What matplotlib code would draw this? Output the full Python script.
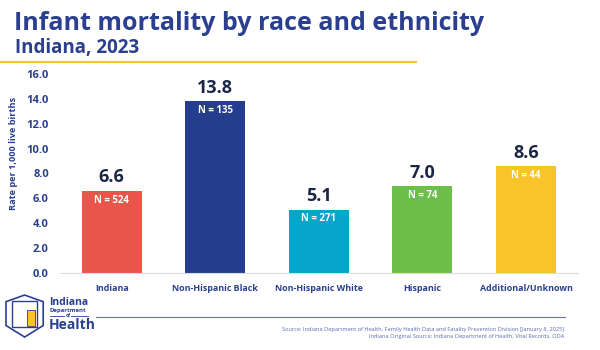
import matplotlib.pyplot as plt
from matplotlib.patches import Polygon, Rectangle
from matplotlib.lines import Line2D

plt.rcParams['font.family'] = ['Open Sans', 'DejaVu Sans']

categories = ['Indiana', 'Non-Hispanic Black', 'Non-Hispanic White', 'Hispanic', 'Additional/Unknown']
rates = [6.6, 13.8, 5.1, 7.0, 8.6]
counts = [524, 135, 271, 74, 44]
colors = ['#E9554A', '#243E8D', '#06A6CA', '#6CC04A', '#F8C42A']
yticks = [0, 2, 4, 6, 8, 10, 12, 14, 16]

navy = '#2A3F8F'
dark = '#1B2545'

fig = plt.figure(figsize=(6, 3.5), dpi=100)
ax = fig.add_axes([0.1, 0.22, 0.863, 0.569])

x = range(len(categories))
bars = ax.bar(x, rates, width=0.58, color=colors)
for i, b in enumerate(bars):
    h = b.get_height()
    ax.text(b.get_x() + b.get_width() / 2, h + 0.35, f'{h:.1f}', ha='center', va='bottom',
            fontsize=13, fontweight='bold', color=dark)
    ax.text(b.get_x() + b.get_width() / 2, h - 0.75, f'N = {counts[i]}', ha='center', va='center',
            fontsize=7, fontweight='bold', color='white')

ax.set_xlim(-0.5, 4.5)
ax.set_ylim(0, 16)
ax.set_yticks(yticks)
ax.set_yticklabels([f'{v:.1f}' for v in yticks], fontsize=8, fontweight='bold', color=navy)
ax.set_xticks(list(x))
ax.set_xticklabels(categories, fontsize=6.4, fontweight='bold', color=navy)
ax.tick_params(axis='both', length=0, pad=8)
for s in ['top', 'right', 'left']:
    ax.spines[s].set_visible(False)
ax.spines['bottom'].set_color('#D9DCE6')
ax.set_ylabel('Rate per 1,000 live births', fontsize=6.6, fontweight='bold', color=navy,
              labelpad=6, y=0.6)

# title block
fig.text(0.023, 0.934, 'Infant mortality by race and ethnicity', fontsize=18, fontweight='bold',
         color=navy, va='center', ha='left')
fig.text(0.025, 0.863, 'Indiana, 2023', fontsize=13.5, fontweight='bold', color=navy, va='center', ha='left')
fig.add_artist(Line2D([0, 0.693], [0.823, 0.823], color='#F8C42A', lw=1.5, transform=fig.transFigure))

# footer
fig.add_artist(Line2D([0.16, 0.942], [0.094, 0.094], color='#6272B2', lw=0.8, transform=fig.transFigure))
fig.text(0.94, 0.06, 'Source: Indiana Department of Health, Family Health Data and Fatality Prevention Division [January 8, 2025]',
         fontsize=4.1, color='#5A6BAE', ha='right', va='center')
fig.text(0.94, 0.039, 'Indiana Original Source: Indiana Department of Health, Vital Records, ODA',
         fontsize=4.1, color='#5A6BAE', ha='right', va='center')

# logo
sx = [0.01, 0.01, 0.041, 0.072, 0.072, 0.041]
sy = [0.138, 0.07, 0.037, 0.07, 0.138, 0.157]
fig.add_artist(Polygon(list(zip(sx, sy)), closed=True, fill=False, ec=navy, lw=1.2,
                       transform=fig.transFigure))
fig.add_artist(Rectangle((0.02, 0.065), 0.042, 0.075, fill=False, ec=navy, lw=1.0, transform=fig.transFigure))
fig.add_artist(Rectangle((0.045, 0.07), 0.013, 0.045, fc='#F8C42A', ec=navy, lw=0.6, transform=fig.transFigure))
fig.text(0.082, 0.136, 'Indiana', fontsize=7.5, fontweight='bold', color=navy, va='center')
fig.text(0.082, 0.113, 'Department', fontsize=4.3, fontweight='bold', color=navy, va='center')
fig.text(0.11, 0.099, 'of', fontsize=3.5, fontweight='bold', color=navy, va='center')
fig.add_artist(Line2D([0.083, 0.107], [0.098, 0.098], color=navy, lw=0.6, transform=fig.transFigure))
fig.add_artist(Line2D([0.119, 0.147], [0.098, 0.098], color=navy, lw=0.6, transform=fig.transFigure))
fig.text(0.082, 0.072, 'Health', fontsize=10, fontweight='bold', color=navy, va='center')

fig.savefig('out.png', dpi=100)
